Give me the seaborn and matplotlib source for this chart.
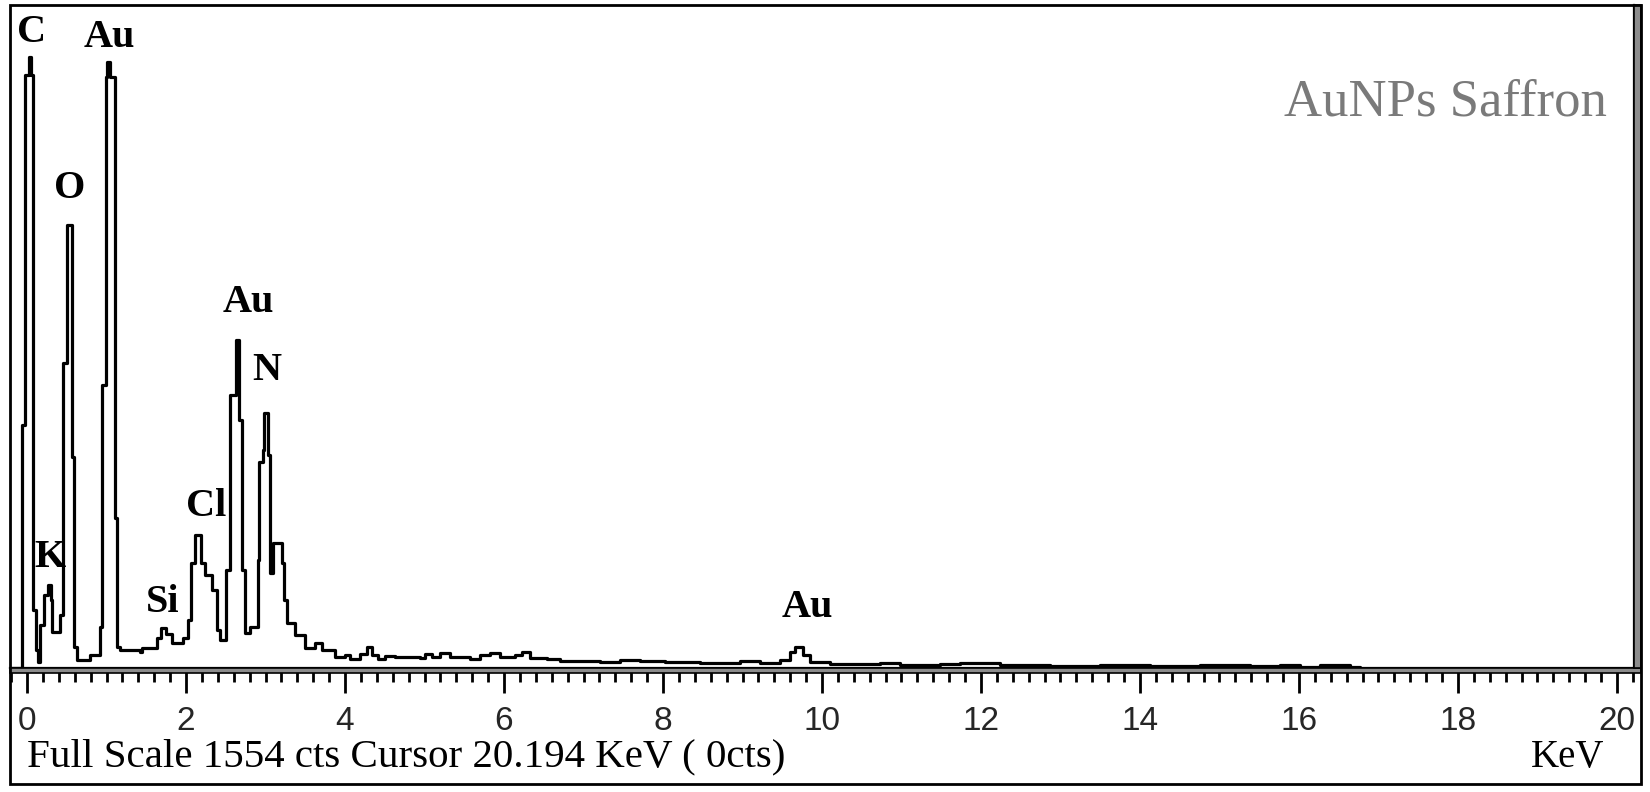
import matplotlib
matplotlib.use("Agg")
import matplotlib.pyplot as plt
import seaborn as sns
import pandas as pd
from matplotlib.ticker import MultipleLocator
from matplotlib.patches import Rectangle

# spectrum outline (step levels), keV and counts
energia_kev = [-0.21, -0.06, -0.03, 0.03, 0.05, 0.08, 0.11, 0.14, 0.16, 0.21,
               0.26, 0.30, 0.31, 0.42, 0.45, 0.50, 0.57, 0.59, 0.63, 0.79,
               0.92, 0.94, 0.99, 1.01, 1.04, 1.11, 1.13, 1.17, 1.42, 1.45,
               1.64, 1.69, 1.75, 1.82, 1.96, 2.03, 2.06, 2.11, 2.19, 2.24,
               2.33, 2.39, 2.43, 2.50, 2.55, 2.63, 2.67, 2.70, 2.74, 2.81,
               2.91, 2.92, 2.97, 2.98, 3.03, 3.06, 3.09, 3.21, 3.23, 3.27,
               3.37, 3.50, 3.62, 3.71, 3.87, 4.00, 4.06, 4.19, 4.28, 4.34,
               4.42, 4.50, 4.63, 4.94, 5.01, 5.09, 5.19, 5.32, 5.57, 5.70,
               5.82, 5.95, 6.14, 6.23, 6.33, 6.54, 6.70, 7.21, 7.46, 7.71,
               8.03, 8.47, 8.97, 9.22, 9.47, 9.60, 9.66, 9.76, 9.85, 10.10,
               10.73, 10.98, 11.48, 11.74, 12.24, 12.87, 13.50, 14.13, 14.75, 15.38,
               15.76, 16.01, 16.26, 16.64, 16.77, 20.24]
contagens = [5, 573, 1391, 1433, 1391, 140, 47, 19, 105, 175,
             199, 164, 89, 129, 717, 1040, 498, 54, 23, 35,
             100, 666, 1386, 1421, 1386, 355, 54, 47, 42, 51,
             75, 98, 84, 63, 75, 117, 250, 315, 250, 222,
             187, 93, 70, 234, 643, 771, 584, 234, 86, 100,
             257, 486, 514, 601, 502, 227, 297, 250, 164, 110,
             82, 51, 63, 47, 30, 35, 26, 37, 54, 35,
             26, 33, 30, 28, 37, 30, 40, 30, 26, 35,
             40, 30, 35, 42, 28, 26, 21, 19, 23, 21,
             19, 16, 21, 16, 23, 42, 54, 35, 19, 14,
             16, 12, 14, 16, 12, 9, 12, 9, 12, 9,
             12, 7, 12, 7, 2, 2]

# element labels
elementos = ["C", "Au", "O", "K", "Si", "Cl", "Au", "N", "Au"]
elem_kev = [0.06, 1.04, 0.54, 0.29, 1.71, 2.26, 2.79, 3.01, 9.82]
elem_cts = [1489, 1477, 1126, 262, 157, 383, 858, 699, 147]

ticks_kev = [0, 2, 4, 6, 8, 10, 12, 14, 16, 18, 20]
full_scale = 1554

W, H = 1650, 792


def fx(x):
    return x / W


def fy(y):
    return 1 - y / H


sns.set_style("white")
plt.rcParams['font.family'] = ['Liberation Serif', 'DejaVu Serif']

df = pd.DataFrame({"kev": energia_kev, "cts": contagens})

fig = plt.figure(figsize=(16.5, 7.92), dpi=100)
ax = fig.add_axes([fx(10), fy(668), fx(1634) - fx(10), fy(5) - fy(668)])

sns.lineplot(data=df, x="kev", y="cts", ax=ax, color="black", linewidth=2.3,
             drawstyle="steps-post", estimator=None, sort=False)

ax.set_xlim(-0.214, 20.214)
ax.set_ylim(5, full_scale)
ax.set_xlabel("")
ax.set_ylabel("")
ax.set_yticks([])

ax.set_xticks(ticks_kev)
ax.set_xticklabels([str(t) for t in ticks_kev], family="Liberation Sans", fontsize=24)
ax.xaxis.set_minor_locator(MultipleLocator(0.2))
ax.tick_params(axis="x", which="major", direction="out", length=18, width=2,
               color="black", pad=9, bottom=True)
ax.tick_params(axis="x", which="minor", direction="out", length=10, width=2,
               color="black", bottom=True)

for lado in ["top", "left"]:
    ax.spines[lado].set_visible(False)
for lado in ["bottom", "right"]:
    ax.spines[lado].set_color("black")
    ax.spines[lado].set_linewidth(1.6)

for nome, xk, yc in zip(elementos, elem_kev, elem_cts):
    ax.text(xk, yc, nome, ha="center", va="center", fontsize=29,
            fontweight="bold", color="black")

# double separator line and right double border
fig.add_artist(Rectangle((fx(10), fy(673)), fx(1641) - fx(10), fy(668) - fy(673),
                         transform=fig.transFigure, facecolor="#8c8c8c",
                         edgecolor="black", linewidth=1.2))
fig.add_artist(Rectangle((fx(1634), fy(668)), fx(1641) - fx(1634), fy(5) - fy(668),
                         transform=fig.transFigure, facecolor="#8c8c8c",
                         edgecolor="black", linewidth=1.2))
# outer frame
fig.add_artist(Rectangle((fx(10), fy(784)), fx(1641) - fx(10), fy(5) - fy(784),
                         transform=fig.transFigure, facecolor="none",
                         edgecolor="black", linewidth=2))

fig.text(fx(1607), fy(102), "AuNPs Saffron", ha="right", va="center",
         fontsize=38, color="#7a7a7a")
fig.text(fx(27), fy(757), f"Full Scale {full_scale} cts Cursor 20.194 KeV ( 0cts)",
         ha="left", va="center", fontsize=29.5, color="black")
fig.text(fx(1568), fy(757), "KeV", ha="center", va="center", fontsize=28,
         color="black")

plt.savefig("out.png", dpi=100)
